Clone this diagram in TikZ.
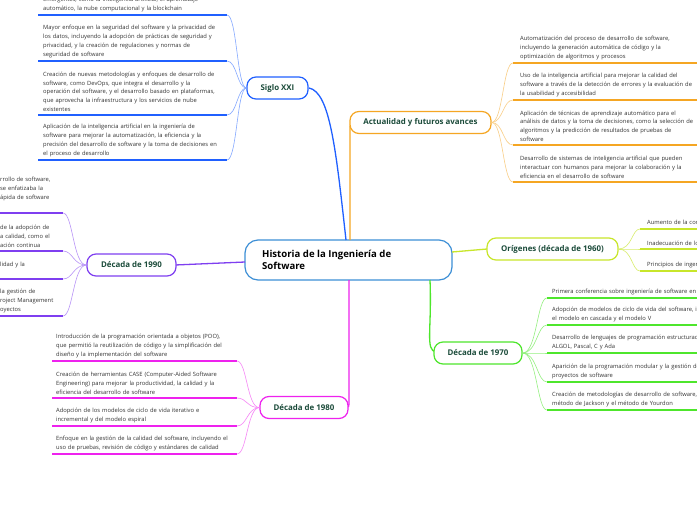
\documentclass[tikz,border=0pt]{standalone}
\usepackage{fontspec}
\setmainfont{Open Sans}
\begin{document}
\begin{tikzpicture}[x=1pt,y=-1pt]
\definecolor{txt}{HTML}{333333}
\definecolor{head}{HTML}{1B4B3A}
\definecolor{cblue}{HTML}{2060FF}
\definecolor{ccen}{HTML}{3D8FD6}
\definecolor{corg}{HTML}{F5A623}
\definecolor{clime}{HTML}{C8E62B}
\definecolor{cgrn}{HTML}{4EE62C}
\definecolor{cmag}{HTML}{EE22EE}
\definecolor{cpur}{HTML}{7F3FF0}
\tikzset{
 leaf/.style={font=\fontsize{5.8}{8.9}\selectfont, text=txt, align=left, anchor=south west, inner sep=0pt, text width=200pt},
 topic/.style={draw, fill=white, line width=1.2pt, rounded corners=9pt, font=\fontsize{7.9}{9}\selectfont\bfseries, text=head, minimum height=22pt, inner sep=0pt},
 uline/.style={line width=1.3pt},
 twig/.style={line width=0.6pt},
 trunk/.style={line width=1.3pt},
}
\useasboundingbox (0,0) rectangle (697,520);
\clip (0,0) rectangle (697,520);
\fill[white] (0,0) rectangle (697,520);

% central
\node[draw=ccen, line width=1.2pt, rounded corners=13pt, minimum width=207pt, minimum height=40pt, inner sep=0pt] (c) at (348.5,260) {};
\node[font=\fontsize{9.6}{11.5}\selectfont\bfseries, text=black, align=left, anchor=west, inner sep=0pt] (ct) at (262,260) {Historia de la Ingeniería de\\Software};

% trunks
\coordinate (sxa) at (346,240);
\draw[trunk, cblue] (sxa) .. controls (336,150) and (330,92) .. (309,88);
\coordinate (aca) at (350,240);
\draw[trunk, corg] (aca) -- (350,130) .. controls (350,125) .. (352,123);
\coordinate (ora) at (452,252);
\draw[trunk, clime] (ora) .. controls (470,250) .. (487,249);
\coordinate (s7a) at (430,280);
\draw[trunk, cgrn] (s7a) .. controls (432,330) and (425,350) .. (436,352);
\coordinate (s8a) at (349,280);
\draw[trunk, cmag] (s8a) -- (349,400) .. controls (349,407) .. (346,408);
\coordinate (s9a) at (245,262);
\draw[trunk, cpur] (s9a) .. controls (210,264) .. (175,265);

% topics
\node[topic, draw=cblue, minimum width=61pt] (sxxi) at (277.5,88) {Siglo XXI};
\node[topic, draw=corg, minimum width=141pt] (act) at (420.5,122.5) {Actualidad y futuros avances};
\node[topic, draw=clime, minimum width=131pt] (ori) at (552.5,249) {Orígenes (década de 1960)};
\node[topic, draw=cgrn, minimum width=88pt] (d70) at (478,353) {Década de 1970};
\node[topic, draw=cmag, minimum width=88pt] (d80) at (304,407.5) {Década de 1980};
\node[topic, draw=cpur, minimum width=89pt] (d90) at (131.5,265) {Década de 1990};

% Siglo XXI children
\foreach \y in {15,61,115,160}{
 \draw[twig, cblue!55] (sxxi.west) .. controls (237,88) and (237,\y) .. (227,\y);
 \draw[uline, cblue] (38,\y) -- (227,\y);}
\node[leaf] (s1) at (43,12) {emergentes, como la inteligencia artificial, el aprendizaje\\automático, la nube computacional y la blockchain};
\node[leaf] (s2) at (43,58) {Mayor enfoque en la seguridad del software y la privacidad de\\los datos, incluyendo la adopción de prácticas de seguridad y\\privacidad, y la creación de regulaciones y normas de\\seguridad de software};
\node[leaf] (s3) at (43,112) {Creación de nuevas metodologías y enfoques de desarrollo de\\software, como DevOps, que integra el desarrollo y la\\operación del software, y el desarrollo basado en plataformas,\\que aprovecha la infraestructura y los servicios de nube\\existentes};
\node[leaf] (s4) at (43,157) {Aplicación de la inteligencia artificial en la ingeniería de\\software para mejorar la automatización, la eficiencia y la\\precisión del desarrollo de software y la toma de decisiones en\\el proceso de desarrollo};

% Actualidad children
\foreach \y in {63,100,145,182}{
 \draw[twig, corg!55] (act.east) .. controls (503,122) and (503,\y) .. (513,\y);
 \draw[uline, corg] (513,\y) -- (697,\y);}
\node[leaf] (a1) at (520,60) {Automatización del proceso de desarrollo de software,\\incluyendo la generación automática de código y la\\optimización de algoritmos y procesos};
\node[leaf] (a2) at (520,97) {Uso de la inteligencia artificial para mejorar la calidad del\\software a través de la detección de errores y la evaluación de\\la usabilidad y accesibilidad};
\node[leaf] (a3) at (520,142) {Aplicación de técnicas de aprendizaje automático para el\\análisis de datos y la toma de decisiones, como la selección de\\algoritmos y la predicción de resultados de pruebas de\\software};
\node[leaf] (a4) at (520,179) {Desarrollo de sistemas de inteligencia artificial que pueden\\interactuar con humanos para mejorar la colaboración y la\\eficiencia en el desarrollo de software};

% Origenes children
\foreach \y in {229,249,271}{
 \draw[twig, clime!70] (ori.east) .. controls (632,249) and (632,\y) .. (640,\y);
 \draw[uline, clime] (640,\y) -- (697,\y);}
\node[leaf] (o1) at (647,226) {Aumento de la complejidad del software};
\node[leaf] (o2) at (647,246) {Inadecuación de los métodos tradicionales};
\node[leaf] (o3) at (647,268) {Principios de ingeniería de software};

% 1970 children
\foreach \y in {298,325,353,382,410}{
 \draw[twig, cgrn!60] (d70.east) .. controls (537,353) and (537,\y) .. (547,\y);
 \draw[uline, cgrn] (547,\y) -- (697,\y);}
\node[leaf] (g1) at (552,295) {Primera conferencia sobre ingeniería de software en 1968};
\node[leaf] (g2) at (552,322) {Adopción de modelos de ciclo de vida del software, incluyendo\\el modelo en cascada y el modelo V};
\node[leaf] (g3) at (552,350) {Desarrollo de lenguajes de programación estructurada, como\\ALGOL, Pascal, C y Ada};
\node[leaf] (g4) at (552,379) {Aparición de la programación modular y la gestión de\\proyectos de software};
\node[leaf] (g5) at (552,407) {Creación de metodologías de desarrollo de software, como el\\método de Jackson y el método de Yourdon};

% 1980 children
\foreach \y in {361,398,426,454}{
 \draw[twig, cmag!55] (d80.west) .. controls (247,408) and (247,\y) .. (237,\y);
 \draw[uline, cmag] (52,\y) -- (237,\y);}
\node[leaf] (m1) at (56,358) {Introducción de la programación orientada a objetos (POO),\\que permitió la reutilización de código y la simplificación del\\diseño y la implementación del software};
\node[leaf] (m2) at (56,395) {Creación de herramientas CASE (Computer-Aided Software\\Engineering) para mejorar la productividad, la calidad y la\\eficiencia del desarrollo de software};
\node[leaf] (m3) at (56,423) {Adopción de los modelos de ciclo de vida iterativo e\\incremental y del modelo espiral};
\node[leaf] (m4) at (56,451) {Enfoque en la gestión de la calidad del software, incluyendo el\\uso de pruebas, revisión de código y estándares de calidad};

% 1990 children
\foreach \y in {213,251,279,316}{
 \draw[twig, cpur!55] (d90.west) .. controls (73,265) and (73,\y) .. (63,\y);
 \draw[uline, cpur] (0,\y) -- (63,\y);}
\node[leaf, text width=70pt] (p1) at (0,201) {rrollo de software,\\se enfatizaba la\\ápida de software};
\node[leaf, text width=70pt] (p2) at (0,248) {de la adopción de\\a calidad, como el\\ación continua};
\node[leaf, text width=70pt] (p3) at (0,276) {lidad y la\\\phantom{x}};
\node[leaf, text width=70pt] (p4) at (0,313) {la gestión de\\roject Management\\oyectos};
\end{tikzpicture}
\end{document}
